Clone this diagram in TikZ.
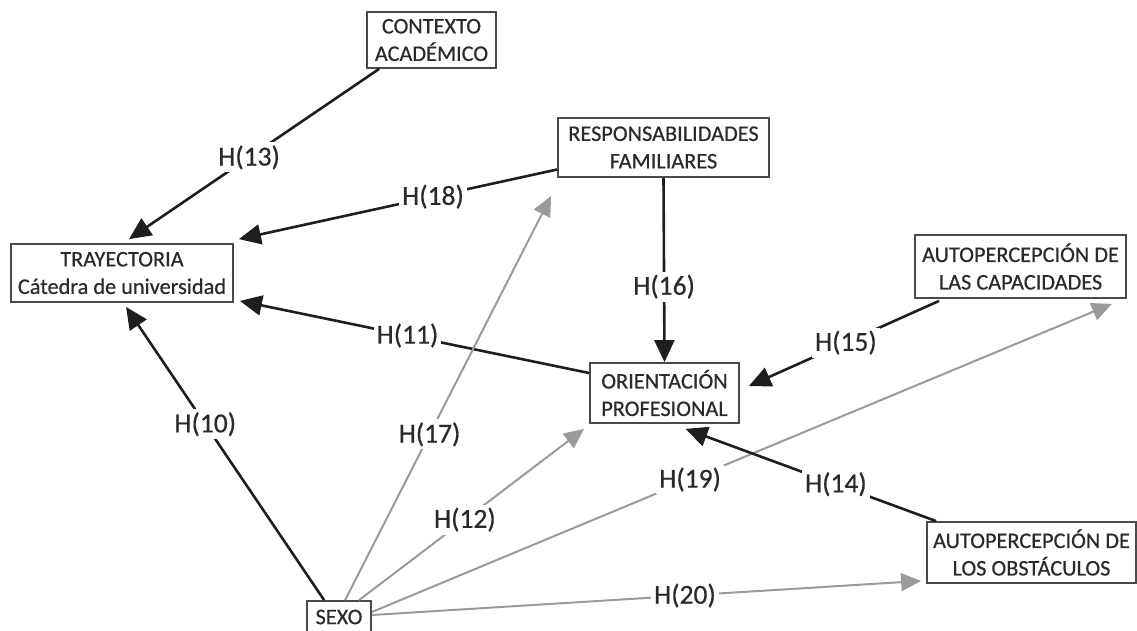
\documentclass[tikz,border=0pt]{standalone}
\usepackage{fontspec}
\setmainfont{Carlito}[FakeBold=0.5]
\usetikzlibrary{arrows.meta}

\definecolor{inkdark}{HTML}{1E1E1E}
\definecolor{inkgray}{HTML}{9A9A9A}
\definecolor{boxline}{HTML}{4A4A4A}
\definecolor{txt}{HTML}{2A2A2A}

\tikzset{
  var/.style={draw=boxline, line width=1.8pt, fill=white, text=txt, align=center,
    inner sep=0pt, font=\fontsize{22.3}{27.5}\selectfont},
  strong/.style={draw=inkdark, line width=2.6pt,
    -{Triangle[length=22pt,width=20pt]}},
  weak/.style={draw=inkgray, line width=2pt,
    -{Triangle[length=20pt,width=18pt]}},
  lbl/.style={fill=white, inner sep=3pt, text=txt,
    font=\fontsize{27.5}{27.5}\selectfont},
}

\begin{document}
\begin{tikzpicture}[x=1pt,y=-1pt]
\useasboundingbox (0,0) rectangle (1137,630);

% variables
\node[var, minimum width=129pt, minimum height=56pt] (ctx)    at (431.5,40)  {CONTEXTO\\ACADÉMICO};
\node[var, minimum width=211pt, minimum height=59pt] (resp)   at (663.5,147.5) {RESPONSABILIDADES\\FAMILIARES};
\node[var, minimum width=222pt, minimum height=58pt] (tray)   at (122,273)   {TRAYECTORIA\\Cátedra de universidad};
\node[var, minimum width=211pt, minimum height=63pt] (cap)    at (1020.5,266.5) {AUTOPERCEPCIÓN DE\\LAS CAPACIDADES};
\node[var, minimum width=149pt, minimum height=60pt] (orient) at (664.5,393)  {ORIENTACIÓN\\PROFESIONAL};
\node[var, minimum width=209pt, minimum height=61pt] (obst)   at (1031.5,552.5) {AUTOPERCEPCIÓN DE\\LOS OBSTÁCULOS};
\node[var, minimum width=64pt,  minimum height=32pt] (sexo)   at (339,617)   {SEXO};

% hypotheses towards the career path
\draw[strong] ([xshift=13pt]ctx.south west) -- node[lbl, pos=0.52] {H(13)}
  ([xshift=7pt,yshift=4pt]tray.north);
\draw[strong] ([yshift=-22pt]resp.west) -- node[lbl, pos=0.39] {H(18)}
  ([xshift=5pt,yshift=4pt]tray.north east);
\draw[strong] ([yshift=20pt]orient.west) -- node[lbl, pos=0.52] {H(11)}
  ([xshift=6pt,yshift=2pt]tray.south east);

% hypotheses towards professional orientation
\draw[strong] (resp.south) -- node[lbl, pos=0.59] {H(16)} (orient.north);
\draw[strong] ([xshift=25pt,yshift=-2pt]cap.south west) -- node[lbl, pos=0.49] {H(15)}
  ([xshift=9pt,yshift=7pt]orient.east);

% effects of sex
\draw[weak] ([xshift=39pt]sexo.north west) -- node[lbl, pos=0.41] {H(17)}
  ([xshift=-6pt,yshift=-18pt]resp.south west);
\draw[weak] ([xshift=53pt]sexo.north west) -- node[lbl, pos=0.47] {H(12)}
  ([xshift=-5pt,yshift=-5pt]orient.south west);
\draw[weak] ([yshift=5pt]sexo.east) -- node[lbl, pos=0.43] {H(19)}
  ([xshift=-15pt,yshift=-5pt]cap.south east);
\draw[weak] ([yshift=2pt]sexo.east) -- node[lbl, pos=0.57] {H(20)}
  ([xshift=-5pt,yshift=3pt]obst.south west);
\draw[strong] ([xshift=18pt]sexo.north west) -- node[lbl, pos=0.6] {H(10)}
  ([xshift=4pt,yshift=-4pt]tray.south);

% obstacles towards orientation
\draw[strong] ([xshift=10pt]obst.north west) -- node[lbl, pos=0.4] {H(14)}
  ([xshift=21pt,yshift=-5pt]orient.south);
\end{tikzpicture}
\end{document}
